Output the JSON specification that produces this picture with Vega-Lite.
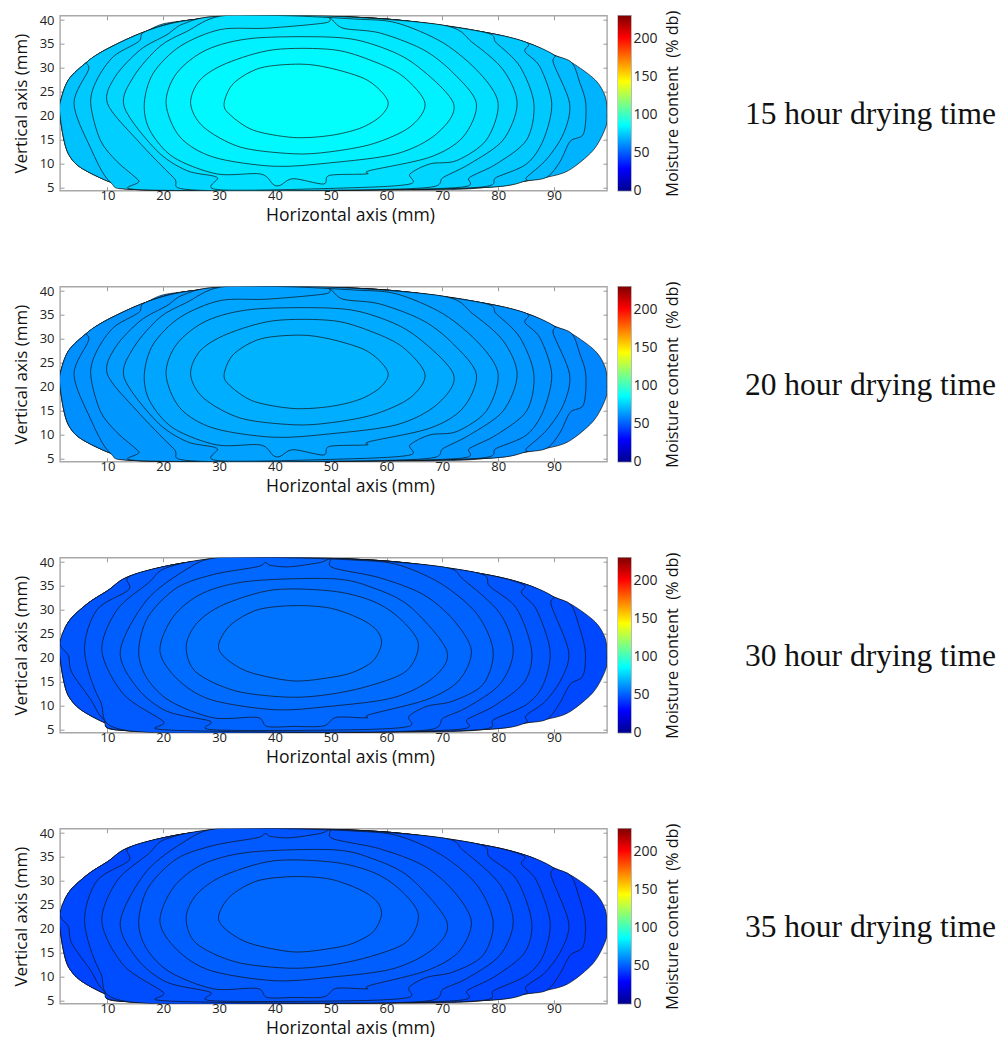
{"$schema":"https://vega.github.io/schema/vega-lite/v6.json","padding":{"left":11,"top":8.7,"right":0,"bottom":0},"background":"white",
"config":{"view":{"stroke":"#a8a8a8","strokeWidth":1.4},"axis":{"grid":false,"labelFont":"Open Sans","titleFont":"Open Sans","labelFontSize":13,"titleFontSize":17,"titleFontWeight":"normal","labelColor":"#222","titleColor":"#111","domain":false,"tickColor":"#999","tickSize":-4}},
"datasets":{"shapeA":[
{"l":0,"x":1.5,"y":22.6},{"l":0,"x":3,"y":27.5},{"l":0,"x":6.4,"y":31.3},{"l":0,"x":10,"y":34},{"l":0,"x":16.8,"y":37.6},{"l":0,"x":20,"y":39.2},{"l":0,"x":24.8,"y":40},{"l":0,"x":30,"y":40.8},{"l":0,"x":40,"y":40.9},{"l":0,"x":50,"y":40.8},{"l":0,"x":60,"y":40.2},{"l":0,"x":70.2,"y":38.9},{"l":0,"x":77.3,"y":37.5},{"l":0,"x":85.1,"y":35.3},{"l":0,"x":90,"y":32.7},{"l":0,"x":93.2,"y":31.1},{"l":0,"x":97.4,"y":27.5},{"l":0,"x":99.2,"y":24},{"l":0,"x":99.5,"y":20.2},{"l":0,"x":99.2,"y":17.4},{"l":0,"x":97,"y":12.8},{"l":0,"x":92.6,"y":8.6},{"l":0,"x":88.7,"y":7.2},{"l":0,"x":84.8,"y":6.4},{"l":0,"x":77.9,"y":5.1},{"l":0,"x":70,"y":4.6},{"l":0,"x":50,"y":4.5},{"l":0,"x":30,"y":4.5},{"l":0,"x":15.9,"y":4.6},{"l":0,"x":10.5,"y":6.2},{"l":0,"x":5.1,"y":9.3},{"l":0,"x":3,"y":12.1},{"l":0,"x":2.1,"y":15.6},{"l":0,"x":1.5,"y":20.2},
{"l":10,"x":1.5,"y":22.6},{"l":10,"x":3,"y":27.5},{"l":10,"x":6.4,"y":31.3},{"l":10,"x":10,"y":34},{"l":10,"x":16.8,"y":37.6},{"l":10,"x":24.8,"y":40},{"l":10,"x":40,"y":40.9},{"l":10,"x":60,"y":40.2},{"l":10,"x":77.3,"y":37.5},{"l":10,"x":85.1,"y":35.3},{"l":10,"x":90,"y":32.7},{"l":10,"x":93.2,"y":31.1},{"l":10,"x":94.6,"y":27},{"l":10,"x":95.7,"y":22.6},{"l":10,"x":95.3,"y":16.3},{"l":10,"x":92.9,"y":14.7},{"l":10,"x":91.1,"y":10.5},{"l":10,"x":88.7,"y":7.2},{"l":10,"x":84.8,"y":6.4},{"l":10,"x":77.9,"y":5.1},{"l":10,"x":50,"y":4.5},{"l":10,"x":15.9,"y":4.6},{"l":10,"x":10.5,"y":6.2},{"l":10,"x":5.1,"y":9.3},{"l":10,"x":3,"y":12.1},{"l":10,"x":2.1,"y":15.6},{"l":10,"x":1.5,"y":20.2},
{"l":9,"x":1.5,"y":22.6},{"l":9,"x":3,"y":27.5},{"l":9,"x":6.4,"y":31.3},{"l":9,"x":10,"y":34},{"l":9,"x":16.8,"y":37.6},{"l":9,"x":24.8,"y":40},{"l":9,"x":40,"y":40.9},{"l":9,"x":60,"y":40.2},{"l":9,"x":77.3,"y":37.5},{"l":9,"x":85.1,"y":35.3},{"l":9,"x":90,"y":32.7},{"l":9,"x":89.9,"y":31},{"l":9,"x":92.8,"y":22.6},{"l":9,"x":91.7,"y":16.3},{"l":9,"x":88.7,"y":11},{"l":9,"x":85.1,"y":7.2},{"l":9,"x":84.8,"y":6.4},{"l":9,"x":77.9,"y":5.1},{"l":9,"x":50,"y":4.5},{"l":9,"x":15.9,"y":4.6},{"l":9,"x":10.5,"y":6.2},{"l":9,"x":5.1,"y":9.3},{"l":9,"x":3,"y":12.1},{"l":9,"x":2.1,"y":15.6},{"l":9,"x":1.5,"y":20.2},
{"l":8,"x":6.4,"y":31.3},{"l":8,"x":10,"y":34},{"l":8,"x":16.8,"y":37.6},{"l":8,"x":24.8,"y":40},{"l":8,"x":40,"y":40.9},{"l":8,"x":60,"y":40.2},{"l":8,"x":77.3,"y":37.5},{"l":8,"x":85.1,"y":35.3},{"l":8,"x":84.8,"y":33.4},{"l":8,"x":87.5,"y":30.2},{"l":8,"x":89.6,"y":22.6},{"l":8,"x":88.1,"y":15},{"l":8,"x":85.1,"y":10},{"l":8,"x":79.7,"y":7.2},{"l":8,"x":76.4,"y":5.1},{"l":8,"x":50,"y":4.5},{"l":8,"x":15.9,"y":4.6},{"l":8,"x":10.5,"y":6.2},{"l":8,"x":6.9,"y":13.5},{"l":8,"x":4,"y":22.6},{"l":8,"x":6.6,"y":29.6},
{"l":7,"x":16.8,"y":37.6},{"l":7,"x":24.8,"y":40},{"l":7,"x":40,"y":40.9},{"l":7,"x":60,"y":40.2},{"l":7,"x":77.3,"y":37.5},{"l":7,"x":79.7,"y":35.2},{"l":7,"x":83.9,"y":30.3},{"l":7,"x":86.4,"y":22.6},{"l":7,"x":85.1,"y":15},{"l":7,"x":79.7,"y":10},{"l":7,"x":74.9,"y":7.2},{"l":7,"x":73.1,"y":5.1},{"l":7,"x":50,"y":4.5},{"l":7,"x":15.8,"y":4.6},{"l":7,"x":15.6,"y":6.5},{"l":7,"x":11.7,"y":10.5},{"l":7,"x":8.7,"y":15},{"l":7,"x":7,"y":22.6},{"l":7,"x":8.1,"y":27.5},{"l":7,"x":11.1,"y":32.4},{"l":7,"x":15.6,"y":35.5},
{"l":6,"x":23.6,"y":39.2},{"l":6,"x":30,"y":40.8},{"l":6,"x":50,"y":40.8},{"l":6,"x":70.2,"y":38.9},{"l":6,"x":75.5,"y":35.2},{"l":6,"x":80.9,"y":29.6},{"l":6,"x":83.4,"y":22.6},{"l":6,"x":80.9,"y":15},{"l":6,"x":74.9,"y":10},{"l":6,"x":70.2,"y":7.2},{"l":6,"x":67.6,"y":5.1},{"l":6,"x":50,"y":4.5},{"l":6,"x":24.8,"y":4.6},{"l":6,"x":21.8,"y":7.2},{"l":6,"x":15.3,"y":15},{"l":6,"x":10,"y":22.6},{"l":6,"x":11.4,"y":28.2},{"l":6,"x":15.9,"y":33.8},{"l":6,"x":20.6,"y":36.9},
{"l":5,"x":30.2,"y":40.8},{"l":5,"x":42,"y":40.9},{"l":5,"x":54.3,"y":40.2},{"l":5,"x":61.8,"y":39.4},{"l":5,"x":70.2,"y":35.2},{"l":5,"x":76.7,"y":28.9},{"l":5,"x":80,"y":22.6},{"l":5,"x":77.9,"y":15},{"l":5,"x":72.6,"y":10.7},{"l":5,"x":67.8,"y":10},{"l":5,"x":64.2,"y":7.9},{"l":5,"x":64.2,"y":5.8},{"l":5,"x":53.4,"y":5},{"l":5,"x":30,"y":4.6},{"l":5,"x":29.6,"y":7.2},{"l":5,"x":24.2,"y":8.6},{"l":5,"x":18.8,"y":12.8},{"l":5,"x":13,"y":21.9},{"l":5,"x":14.7,"y":28.2},{"l":5,"x":19.4,"y":34.5},{"l":5,"x":24.2,"y":37.6},
{"l":4,"x":16.6,"y":22.6},{"l":4,"x":18.2,"y":28.9},{"l":4,"x":23,"y":34.5},{"l":4,"x":30.2,"y":38},{"l":4,"x":38.6,"y":38.3},{"l":4,"x":49,"y":39.4},{"l":4,"x":49.9,"y":40.4},{"l":4,"x":52.2,"y":38.3},{"l":4,"x":58.8,"y":37.3},{"l":4,"x":66.6,"y":33.8},{"l":4,"x":72,"y":28.9},{"l":4,"x":76.1,"y":22.6},{"l":4,"x":73.7,"y":15.6},{"l":4,"x":67.8,"y":11.4},{"l":4,"x":57,"y":8.6},{"l":4,"x":56.4,"y":7.9},{"l":4,"x":49.8,"y":7.6},{"l":4,"x":48.7,"y":5.8},{"l":4,"x":43.3,"y":6.9},{"l":4,"x":40.9,"y":5.5},{"l":4,"x":39.7,"y":5.7},{"l":4,"x":37.4,"y":7.9},{"l":4,"x":29.6,"y":7.9},{"l":4,"x":21.8,"y":11.4},{"l":4,"x":17.6,"y":17},
{"l":3,"x":20.5,"y":22.6},{"l":3,"x":22.4,"y":28.9},{"l":3,"x":27.8,"y":33.8},{"l":3,"x":36.2,"y":36.2},{"l":3,"x":50.5,"y":36.4},{"l":3,"x":57.6,"y":34.9},{"l":3,"x":64.8,"y":31},{"l":3,"x":72,"y":22.6},{"l":3,"x":69,"y":16.3},{"l":3,"x":61.8,"y":12.1},{"l":3,"x":49.8,"y":10.2},{"l":3,"x":39.8,"y":9.5},{"l":3,"x":29,"y":11.4},{"l":3,"x":23,"y":15.6},
{"l":2,"x":24.9,"y":22.6},{"l":2,"x":26.6,"y":27.5},{"l":2,"x":31.4,"y":31},{"l":2,"x":39.8,"y":33.8},{"l":2,"x":50.5,"y":33.8},{"l":2,"x":57.6,"y":31.4},{"l":2,"x":63,"y":28.2},{"l":2,"x":66.9,"y":22.6},{"l":2,"x":64.2,"y":17.7},{"l":2,"x":57.6,"y":14.2},{"l":2,"x":49.8,"y":12.5},{"l":2,"x":43.3,"y":12.1},{"l":2,"x":33.8,"y":13.5},{"l":2,"x":27.2,"y":17.7},
{"l":1,"x":30.9,"y":22.6},{"l":1,"x":32.6,"y":26.8},{"l":1,"x":37.4,"y":30},{"l":1,"x":44.5,"y":30.8},{"l":1,"x":49.8,"y":30},{"l":1,"x":55.8,"y":27.9},{"l":1,"x":58.8,"y":25.4},{"l":1,"x":60.3,"y":22.6},{"l":1,"x":58.8,"y":19.8},{"l":1,"x":55.2,"y":17.4},{"l":1,"x":49.8,"y":15.9},{"l":1,"x":43.3,"y":15.5},{"l":1,"x":36.2,"y":17},{"l":1,"x":32,"y":20.2}],
"shapeB":[
{"l":0,"x":1.5,"y":23},{"l":0,"x":3,"y":27.5},{"l":0,"x":6.4,"y":31.3},{"l":0,"x":10,"y":34},{"l":0,"x":14.1,"y":37.1},{"l":0,"x":20,"y":39},{"l":0,"x":24.8,"y":40},{"l":0,"x":30,"y":40.8},{"l":0,"x":40,"y":40.9},{"l":0,"x":50,"y":40.8},{"l":0,"x":60,"y":40.2},{"l":0,"x":70.2,"y":38.9},{"l":0,"x":77.3,"y":37.5},{"l":0,"x":85.1,"y":35.3},{"l":0,"x":90,"y":32.7},{"l":0,"x":93.2,"y":31.1},{"l":0,"x":97.4,"y":27.5},{"l":0,"x":99.2,"y":24},{"l":0,"x":99.5,"y":20.2},{"l":0,"x":99.2,"y":17.4},{"l":0,"x":97,"y":12.8},{"l":0,"x":92.6,"y":8.6},{"l":0,"x":88.7,"y":7.2},{"l":0,"x":84.8,"y":6.4},{"l":0,"x":77.9,"y":5.1},{"l":0,"x":70,"y":4.6},{"l":0,"x":50,"y":4.5},{"l":0,"x":30,"y":4.5},{"l":0,"x":13.8,"y":4.8},{"l":0,"x":9.3,"y":6.6},{"l":0,"x":5.1,"y":9.3},{"l":0,"x":3,"y":12.1},{"l":0,"x":2.1,"y":15.6},{"l":0,"x":1.5,"y":20.2},
{"l":10,"x":1.5,"y":23},{"l":10,"x":3,"y":27.5},{"l":10,"x":6.4,"y":31.3},{"l":10,"x":10,"y":34},{"l":10,"x":14.1,"y":37.1},{"l":10,"x":24.8,"y":40},{"l":10,"x":40,"y":40.9},{"l":10,"x":60,"y":40.2},{"l":10,"x":77.3,"y":37.5},{"l":10,"x":85.1,"y":35.3},{"l":10,"x":90,"y":32.7},{"l":10,"x":93,"y":31.1},{"l":10,"x":94.4,"y":27},{"l":10,"x":95.6,"y":21.5},{"l":10,"x":95.2,"y":16.3},{"l":10,"x":92.9,"y":14.5},{"l":10,"x":91,"y":10.5},{"l":10,"x":88.7,"y":7.2},{"l":10,"x":84.8,"y":6.4},{"l":10,"x":77.9,"y":5.1},{"l":10,"x":50,"y":4.5},{"l":10,"x":13.8,"y":4.8},{"l":10,"x":9.3,"y":6.6},{"l":10,"x":5.1,"y":9.3},{"l":10,"x":3,"y":12.1},{"l":10,"x":2.1,"y":15.6},{"l":10,"x":1.5,"y":20.2},
{"l":9,"x":1.5,"y":23},{"l":9,"x":3,"y":27.5},{"l":9,"x":6.4,"y":31.3},{"l":9,"x":10,"y":34},{"l":9,"x":14.1,"y":37.1},{"l":9,"x":24.8,"y":40},{"l":9,"x":40,"y":40.9},{"l":9,"x":60,"y":40.2},{"l":9,"x":77.3,"y":37.5},{"l":9,"x":85.1,"y":35.3},{"l":9,"x":89.8,"y":32.8},{"l":9,"x":89.5,"y":31},{"l":9,"x":92.6,"y":21.5},{"l":9,"x":91.5,"y":16},{"l":9,"x":88.5,"y":11},{"l":9,"x":85,"y":8},{"l":9,"x":84.8,"y":6.4},{"l":9,"x":77.9,"y":5.1},{"l":9,"x":50,"y":4.5},{"l":9,"x":13.8,"y":4.8},{"l":9,"x":9.3,"y":6.6},{"l":9,"x":5.1,"y":9.3},{"l":9,"x":3,"y":12.1},{"l":9,"x":2.1,"y":15.6},{"l":9,"x":1.5,"y":20.2},
{"l":8,"x":1.5,"y":23},{"l":8,"x":3,"y":27.5},{"l":8,"x":6.4,"y":31.3},{"l":8,"x":10,"y":34},{"l":8,"x":14.1,"y":37.1},{"l":8,"x":24.8,"y":40},{"l":8,"x":40,"y":40.9},{"l":8,"x":60,"y":40.2},{"l":8,"x":77.3,"y":37.5},{"l":8,"x":84.5,"y":35.3},{"l":8,"x":84.2,"y":33.5},{"l":8,"x":86.9,"y":30},{"l":8,"x":89.3,"y":21.5},{"l":8,"x":88.1,"y":14.5},{"l":8,"x":85.1,"y":10.3},{"l":8,"x":79.3,"y":7.2},{"l":8,"x":76.4,"y":5},{"l":8,"x":50,"y":4.5},{"l":8,"x":13.8,"y":4.8},{"l":8,"x":9.3,"y":7.2},{"l":8,"x":6.9,"y":11.5},{"l":8,"x":3.6,"y":17},{"l":8,"x":3,"y":20.5},
{"l":7,"x":14.1,"y":37.1},{"l":7,"x":24.8,"y":40},{"l":7,"x":40,"y":40.9},{"l":7,"x":60,"y":40.2},{"l":7,"x":76.4,"y":37.7},{"l":7,"x":78.5,"y":34.9},{"l":7,"x":83.3,"y":30.3},{"l":7,"x":86,"y":21.5},{"l":7,"x":84.7,"y":15},{"l":7,"x":79.3,"y":10},{"l":7,"x":74.5,"y":7.2},{"l":7,"x":73,"y":5.1},{"l":7,"x":50,"y":4.5},{"l":7,"x":13.8,"y":4.8},{"l":7,"x":8.7,"y":11},{"l":7,"x":5.9,"y":21.5},{"l":7,"x":8.1,"y":30},{"l":7,"x":13.8,"y":34.2},
{"l":6,"x":20.6,"y":38.8},{"l":6,"x":30,"y":40.8},{"l":6,"x":50,"y":40.8},{"l":6,"x":69.9,"y":39},{"l":6,"x":73.8,"y":36.3},{"l":6,"x":80.3,"y":29.3},{"l":6,"x":82.7,"y":21.5},{"l":6,"x":80.3,"y":14.5},{"l":6,"x":74.3,"y":9.6},{"l":6,"x":70.2,"y":7.5},{"l":6,"x":67.5,"y":5},{"l":6,"x":50,"y":4.5},{"l":6,"x":20.3,"y":5},{"l":6,"x":20,"y":6.8},{"l":6,"x":12.9,"y":12.4},{"l":6,"x":9,"y":21.5},{"l":6,"x":11.7,"y":30},{"l":6,"x":17.3,"y":35.6},
{"l":5,"x":29.6,"y":40.9},{"l":5,"x":42,"y":40.9},{"l":5,"x":54.3,"y":40.4},{"l":5,"x":61.8,"y":39.5},{"l":5,"x":69.6,"y":35.6},{"l":5,"x":76.1,"y":29.3},{"l":5,"x":79.1,"y":21.5},{"l":5,"x":77.3,"y":14.5},{"l":5,"x":71.9,"y":11},{"l":5,"x":67.2,"y":9.9},{"l":5,"x":64,"y":7.8},{"l":5,"x":63.9,"y":5.7},{"l":5,"x":53.4,"y":5},{"l":5,"x":29,"y":5},{"l":5,"x":28.4,"y":6.8},{"l":5,"x":20.6,"y":8.9},{"l":5,"x":15.3,"y":13.8},{"l":5,"x":12.3,"y":21.5},{"l":5,"x":17,"y":32},{"l":5,"x":24.2,"y":38.5},
{"l":4,"x":15.6,"y":21.5},{"l":4,"x":17.3,"y":28.6},{"l":4,"x":22.4,"y":34.6},{"l":4,"x":29,"y":37.4},{"l":4,"x":36.8,"y":39},{"l":4,"x":38.3,"y":39.9},{"l":4,"x":39.2,"y":39.3},{"l":4,"x":42.7,"y":39},{"l":4,"x":48.1,"y":39.9},{"l":4,"x":49.9,"y":40.6},{"l":4,"x":50.4,"y":38.8},{"l":4,"x":58.8,"y":36.7},{"l":4,"x":66.6,"y":33.2},{"l":4,"x":72,"y":27.9},{"l":4,"x":75.2,"y":21.5},{"l":4,"x":72.9,"y":15.2},{"l":4,"x":67.2,"y":11.3},{"l":4,"x":57,"y":8.2},{"l":4,"x":56.4,"y":7.5},{"l":4,"x":51,"y":7.6},{"l":4,"x":48.7,"y":5.8},{"l":4,"x":43.3,"y":5.7},{"l":4,"x":38.6,"y":5.7},{"l":4,"x":36.8,"y":7.6},{"l":4,"x":29,"y":7.5},{"l":4,"x":21.2,"y":11},{"l":4,"x":17,"y":15.9},
{"l":3,"x":19.4,"y":21.5},{"l":3,"x":21.8,"y":28.6},{"l":3,"x":27.1,"y":33.5},{"l":3,"x":35.5,"y":36},{"l":3,"x":50.5,"y":36.5},{"l":3,"x":57.6,"y":34.6},{"l":3,"x":64.2,"y":30.7},{"l":3,"x":70.8,"y":21.5},{"l":3,"x":68.4,"y":15.9},{"l":3,"x":61.2,"y":11.7},{"l":3,"x":49.8,"y":9.9},{"l":3,"x":39.9,"y":9.2},{"l":3,"x":28.5,"y":11.3},{"l":3,"x":22.5,"y":15.6},
{"l":2,"x":24.1,"y":22.3},{"l":2,"x":26,"y":27.2},{"l":2,"x":30.8,"y":31.1},{"l":2,"x":39.8,"y":34.2},{"l":2,"x":50.5,"y":33.9},{"l":2,"x":57.6,"y":31.8},{"l":2,"x":62.4,"y":28.2},{"l":2,"x":65.7,"y":23},{"l":2,"x":63.6,"y":17.3},{"l":2,"x":57,"y":14.2},{"l":2,"x":49.8,"y":12.4},{"l":2,"x":42.6,"y":11.8},{"l":2,"x":33,"y":13.1},{"l":2,"x":25.9,"y":17},
{"l":1,"x":29.9,"y":22.6},{"l":1,"x":32,"y":26.8},{"l":1,"x":36.8,"y":30},{"l":1,"x":43.3,"y":30.9},{"l":1,"x":49.8,"y":30.4},{"l":1,"x":55.2,"y":28.2},{"l":1,"x":58.2,"y":25.8},{"l":1,"x":59.1,"y":23},{"l":1,"x":57.6,"y":19.4},{"l":1,"x":54,"y":17},{"l":1,"x":49.8,"y":15.9},{"l":1,"x":43.3,"y":15.2},{"l":1,"x":35.5,"y":17},{"l":1,"x":31.3,"y":19.8}],
"lv1":[{"l":0,"mc":69},{"l":10,"mc":71},{"l":9,"mc":72.5},{"l":8,"mc":74},{"l":7,"mc":75.5},{"l":6,"mc":77},{"l":5,"mc":79},{"l":4,"mc":81},{"l":3,"mc":83},{"l":2,"mc":85},{"l":1,"mc":87}],
"lv2":[{"l":0,"mc":59},{"l":10,"mc":60},{"l":9,"mc":61},{"l":8,"mc":62},{"l":7,"mc":63},{"l":6,"mc":64},{"l":5,"mc":65},{"l":4,"mc":66},{"l":3,"mc":67},{"l":2,"mc":68},{"l":1,"mc":69}],
"lv3":[{"l":0,"mc":45},{"l":10,"mc":46},{"l":9,"mc":47},{"l":8,"mc":48},{"l":7,"mc":49},{"l":6,"mc":50},{"l":5,"mc":51},{"l":4,"mc":52},{"l":3,"mc":53},{"l":2,"mc":54},{"l":1,"mc":55}],
"lv4":[{"l":0,"mc":42},{"l":10,"mc":43},{"l":9,"mc":44},{"l":8,"mc":45},{"l":7,"mc":46},{"l":6,"mc":47},{"l":5,"mc":48},{"l":4,"mc":49},{"l":3,"mc":50},{"l":2,"mc":51},{"l":1,"mc":52}]},
"vconcat":[
{"hconcat":[
{"width":547,"height":175,"data":{"name":"shapeA"},"transform":[{"lookup":"l","from":{"data":{"name":"lv1"},"key":"l","fields":["mc"]}}],"resolve":{"axis":{"x":"independent","y":"independent"}},"layer":[{"mark":{"type":"line","interpolate":"cardinal-closed","tension":0.1,"stroke":"#111","strokeWidth":0.7,"clip":true},"encoding":{"x":{"field":"x","type":"quantitative","scale":{"domain":[1.5,99.5],"nice":false,"zero":false},"axis":{"orient":"bottom","values":[10,20,30,40,50,60,70,80,90],"title":"Horizontal axis (mm)","titleFontSize":17.6,"titleX":290,"labelPadding":3,"titlePadding":4}},"y":{"field":"y","type":"quantitative","scale":{"domain":[4.4,40.9],"nice":false,"zero":false},"axis":{"orient":"left","values":[5,10,15,20,25,30,35,40],"title":"Vertical axis (mm)","labelPadding":10,"titlePadding":9}},"fill":{"field":"mc","type":"quantitative","legend":null,"scale":{"interpolate":"rgb","domain":[0,28.75,86.25,143.75,201.25,230],"range":["#00008f","#0000ff","#00ffff","#ffff00","#ff0000","#800000"]}},"detail":{"field":"l"},"order":{"value":null}}},{"mark":{"type":"point","opacity":0},"encoding":{"x":{"field":"x","type":"quantitative","axis":{"orient":"top","values":[10,20,30,40,50,60,70,80,90],"labels":false,"title":null}},"y":{"field":"y","type":"quantitative","axis":{"orient":"right","values":[5,10,15,20,25,30,35,40],"labels":false,"title":null}}}}]},
{"width":13,"height":175,"data":{"values":[{"a":0,"b":230}]},"mark":{"type":"rect","color":{"gradient":"linear","x1":0,"y1":1,"x2":0,"y2":0,"stops":[{"offset":0,"color":"#00008f"},{"offset":0.125,"color":"#0000ff"},{"offset":0.375,"color":"#00ffff"},{"offset":0.625,"color":"#ffff00"},{"offset":0.875,"color":"#ff0000"},{"offset":1,"color":"#800000"}]}},"encoding":{"y":{"field":"a","type":"quantitative","scale":{"domain":[0,230],"nice":false},"axis":{"orient":"right","values":[0,50,100,150,200],"ticks":false,"title":"Moisture content \u00a0(% db)","titleAngle":270,"labelPadding":2,"labelFontSize":14,"titlePadding":23,"titleFontSize":16.3}},"y2":{"field":"b"}}},
{"width":360,"height":175,"view":{"stroke":null},"data":{"values":[{"t":"15 hour drying time","x":103,"y":0.43}]},"mark":{"type":"text","font":"Liberation Serif","fontSize":31.5,"align":"left","color":"#111"},"encoding":{"x":{"field":"x","type":"quantitative","axis":null,"scale":{"domain":[0,360],"nice":false}},"y":{"field":"y","type":"quantitative","axis":null,"scale":{"domain":[0,1],"nice":false}},"text":{"field":"t"}}}
],"spacing":11,"bounds":"flush"},
{"hconcat":[
{"width":547,"height":175,"data":{"name":"shapeA"},"transform":[{"lookup":"l","from":{"data":{"name":"lv2"},"key":"l","fields":["mc"]}}],"resolve":{"axis":{"x":"independent","y":"independent"}},"layer":[{"mark":{"type":"line","interpolate":"cardinal-closed","tension":0.1,"stroke":"#111","strokeWidth":0.7,"clip":true},"encoding":{"x":{"field":"x","type":"quantitative","scale":{"domain":[1.5,99.5],"nice":false,"zero":false},"axis":{"orient":"bottom","values":[10,20,30,40,50,60,70,80,90],"title":"Horizontal axis (mm)","titleFontSize":17.6,"titleX":290,"labelPadding":3,"titlePadding":4}},"y":{"field":"y","type":"quantitative","scale":{"domain":[4.4,40.9],"nice":false,"zero":false},"axis":{"orient":"left","values":[5,10,15,20,25,30,35,40],"title":"Vertical axis (mm)","labelPadding":10,"titlePadding":9}},"fill":{"field":"mc","type":"quantitative","legend":null,"scale":{"interpolate":"rgb","domain":[0,28.75,86.25,143.75,201.25,230],"range":["#00008f","#0000ff","#00ffff","#ffff00","#ff0000","#800000"]}},"detail":{"field":"l"},"order":{"value":null}}},{"mark":{"type":"point","opacity":0},"encoding":{"x":{"field":"x","type":"quantitative","axis":{"orient":"top","values":[10,20,30,40,50,60,70,80,90],"labels":false,"title":null}},"y":{"field":"y","type":"quantitative","axis":{"orient":"right","values":[5,10,15,20,25,30,35,40],"labels":false,"title":null}}}}]},
{"width":13,"height":175,"data":{"values":[{"a":0,"b":230}]},"mark":{"type":"rect","color":{"gradient":"linear","x1":0,"y1":1,"x2":0,"y2":0,"stops":[{"offset":0,"color":"#00008f"},{"offset":0.125,"color":"#0000ff"},{"offset":0.375,"color":"#00ffff"},{"offset":0.625,"color":"#ffff00"},{"offset":0.875,"color":"#ff0000"},{"offset":1,"color":"#800000"}]}},"encoding":{"y":{"field":"a","type":"quantitative","scale":{"domain":[0,230],"nice":false},"axis":{"orient":"right","values":[0,50,100,150,200],"ticks":false,"title":"Moisture content \u00a0(% db)","titleAngle":270,"labelPadding":2,"labelFontSize":14,"titlePadding":23,"titleFontSize":16.3}},"y2":{"field":"b"}}},
{"width":360,"height":175,"view":{"stroke":null},"data":{"values":[{"t":"20 hour drying time","x":103,"y":0.43}]},"mark":{"type":"text","font":"Liberation Serif","fontSize":31.5,"align":"left","color":"#111"},"encoding":{"x":{"field":"x","type":"quantitative","axis":null,"scale":{"domain":[0,360],"nice":false}},"y":{"field":"y","type":"quantitative","axis":null,"scale":{"domain":[0,1],"nice":false}},"text":{"field":"t"}}}
],"spacing":11,"bounds":"flush"},
{"hconcat":[
{"width":547,"height":175,"data":{"name":"shapeB"},"transform":[{"lookup":"l","from":{"data":{"name":"lv3"},"key":"l","fields":["mc"]}}],"resolve":{"axis":{"x":"independent","y":"independent"}},"layer":[{"mark":{"type":"line","interpolate":"cardinal-closed","tension":0.1,"stroke":"#111","strokeWidth":0.7,"clip":true},"encoding":{"x":{"field":"x","type":"quantitative","scale":{"domain":[1.5,99.5],"nice":false,"zero":false},"axis":{"orient":"bottom","values":[10,20,30,40,50,60,70,80,90],"title":"Horizontal axis (mm)","titleFontSize":17.6,"titleX":290,"labelPadding":3,"titlePadding":4}},"y":{"field":"y","type":"quantitative","scale":{"domain":[4.4,40.9],"nice":false,"zero":false},"axis":{"orient":"left","values":[5,10,15,20,25,30,35,40],"title":"Vertical axis (mm)","labelPadding":10,"titlePadding":9}},"fill":{"field":"mc","type":"quantitative","legend":null,"scale":{"interpolate":"rgb","domain":[0,28.75,86.25,143.75,201.25,230],"range":["#00008f","#0000ff","#00ffff","#ffff00","#ff0000","#800000"]}},"detail":{"field":"l"},"order":{"value":null}}},{"mark":{"type":"point","opacity":0},"encoding":{"x":{"field":"x","type":"quantitative","axis":{"orient":"top","values":[10,20,30,40,50,60,70,80,90],"labels":false,"title":null}},"y":{"field":"y","type":"quantitative","axis":{"orient":"right","values":[5,10,15,20,25,30,35,40],"labels":false,"title":null}}}}]},
{"width":13,"height":175,"data":{"values":[{"a":0,"b":230}]},"mark":{"type":"rect","color":{"gradient":"linear","x1":0,"y1":1,"x2":0,"y2":0,"stops":[{"offset":0,"color":"#00008f"},{"offset":0.125,"color":"#0000ff"},{"offset":0.375,"color":"#00ffff"},{"offset":0.625,"color":"#ffff00"},{"offset":0.875,"color":"#ff0000"},{"offset":1,"color":"#800000"}]}},"encoding":{"y":{"field":"a","type":"quantitative","scale":{"domain":[0,230],"nice":false},"axis":{"orient":"right","values":[0,50,100,150,200],"ticks":false,"title":"Moisture content \u00a0(% db)","titleAngle":270,"labelPadding":2,"labelFontSize":14,"titlePadding":23,"titleFontSize":16.3}},"y2":{"field":"b"}}},
{"width":360,"height":175,"view":{"stroke":null},"data":{"values":[{"t":"30 hour drying time","x":103,"y":0.43}]},"mark":{"type":"text","font":"Liberation Serif","fontSize":31.5,"align":"left","color":"#111"},"encoding":{"x":{"field":"x","type":"quantitative","axis":null,"scale":{"domain":[0,360],"nice":false}},"y":{"field":"y","type":"quantitative","axis":null,"scale":{"domain":[0,1],"nice":false}},"text":{"field":"t"}}}
],"spacing":11,"bounds":"flush"},
{"hconcat":[
{"width":547,"height":175,"data":{"name":"shapeB"},"transform":[{"lookup":"l","from":{"data":{"name":"lv4"},"key":"l","fields":["mc"]}}],"resolve":{"axis":{"x":"independent","y":"independent"}},"layer":[{"mark":{"type":"line","interpolate":"cardinal-closed","tension":0.1,"stroke":"#111","strokeWidth":0.7,"clip":true},"encoding":{"x":{"field":"x","type":"quantitative","scale":{"domain":[1.5,99.5],"nice":false,"zero":false},"axis":{"orient":"bottom","values":[10,20,30,40,50,60,70,80,90],"title":"Horizontal axis (mm)","titleFontSize":17.6,"titleX":290,"labelPadding":3,"titlePadding":4}},"y":{"field":"y","type":"quantitative","scale":{"domain":[4.4,40.9],"nice":false,"zero":false},"axis":{"orient":"left","values":[5,10,15,20,25,30,35,40],"title":"Vertical axis (mm)","labelPadding":10,"titlePadding":9}},"fill":{"field":"mc","type":"quantitative","legend":null,"scale":{"interpolate":"rgb","domain":[0,28.75,86.25,143.75,201.25,230],"range":["#00008f","#0000ff","#00ffff","#ffff00","#ff0000","#800000"]}},"detail":{"field":"l"},"order":{"value":null}}},{"mark":{"type":"point","opacity":0},"encoding":{"x":{"field":"x","type":"quantitative","axis":{"orient":"top","values":[10,20,30,40,50,60,70,80,90],"labels":false,"title":null}},"y":{"field":"y","type":"quantitative","axis":{"orient":"right","values":[5,10,15,20,25,30,35,40],"labels":false,"title":null}}}}]},
{"width":13,"height":175,"data":{"values":[{"a":0,"b":230}]},"mark":{"type":"rect","color":{"gradient":"linear","x1":0,"y1":1,"x2":0,"y2":0,"stops":[{"offset":0,"color":"#00008f"},{"offset":0.125,"color":"#0000ff"},{"offset":0.375,"color":"#00ffff"},{"offset":0.625,"color":"#ffff00"},{"offset":0.875,"color":"#ff0000"},{"offset":1,"color":"#800000"}]}},"encoding":{"y":{"field":"a","type":"quantitative","scale":{"domain":[0,230],"nice":false},"axis":{"orient":"right","values":[0,50,100,150,200],"ticks":false,"title":"Moisture content \u00a0(% db)","titleAngle":270,"labelPadding":2,"labelFontSize":14,"titlePadding":23,"titleFontSize":16.3}},"y2":{"field":"b"}}},
{"width":360,"height":175,"view":{"stroke":null},"data":{"values":[{"t":"35 hour drying time","x":103,"y":0.43}]},"mark":{"type":"text","font":"Liberation Serif","fontSize":31.5,"align":"left","color":"#111"},"encoding":{"x":{"field":"x","type":"quantitative","axis":null,"scale":{"domain":[0,360],"nice":false}},"y":{"field":"y","type":"quantitative","axis":null,"scale":{"domain":[0,1],"nice":false}},"text":{"field":"t"}}}
],"spacing":11,"bounds":"flush"}
],"spacing":271,"bounds":"flush"}
